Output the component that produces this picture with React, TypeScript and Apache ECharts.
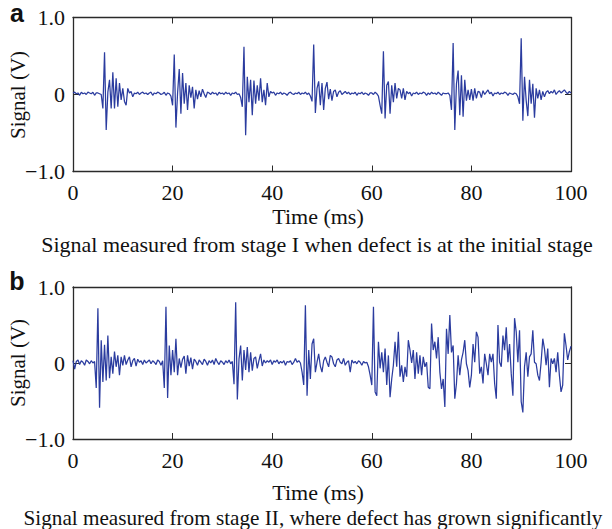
import React, { useEffect, useRef } from "react";
import * as echarts from "echarts";

// sample step: 1/3 ms
const STEP_MS = 1 / 3;

const xTicks = [0, 20, 40, 60, 80, 100];
const yTicks = [-1, 0, 1];
const yTickLabels: Record<string, string> = { "-1": "\u22121.0", "0": "0", "1": "1.0" };

const titleA = "Signal measured from stage I when defect is at the initial stage";
const titleB = "Signal measured from stage II, where defect has grown significantly";
const xName = "Time (ms)";
const yName = "Signal (V)";

// Panel a: stage I signal (V), one value every 1/3 ms, 0..100 ms
const signalA = [
  0.02, 0.03, 0.01, 0.02, -0.01, 0.03, 0.01, 0.02, 0.0, 0.03, 0.02, 0.01, 0.03, -0.01, 0.02,
  0.02, 0.01, 0.0, -0.18, 0.55, -0.46, 0.03, 0.19, -0.18, 0.29, -0.18, 0.21, -0.16, 0.15, -0.07,
  0.08, -0.09, -0.14, 0.08, 0.02, 0.04, -0.03, 0.02, 0.01, 0.03, 0.0, 0.02, 0.03, 0.01, 0.02,
  0.0, 0.02, 0.03, -0.01, 0.02, 0.01, 0.03, 0.02, 0.0, 0.01, 0.03, -0.01, 0.02, 0.01, -0.02,
  -0.14, 0.52, -0.43, 0.02, 0.33, -0.25, 0.28, -0.12, 0.15, -0.2, 0.12, -0.04, 0.1, -0.18, 0.06,
  -0.06, 0.05, -0.03, 0.07, 0.01, -0.04, 0.03, 0.02, 0.0, 0.03, 0.01, 0.02, -0.01, 0.03, 0.01,
  0.02, 0.0, 0.03, 0.01, 0.02, -0.01, 0.02, 0.01, 0.03, 0.0, 0.01, -0.04, -0.16, 0.62, -0.53,
  0.23, -0.1, 0.19, -0.27, 0.18, -0.12, 0.12, -0.08, 0.21, -0.1, 0.06, -0.14, 0.15, -0.03, 0.04,
  0.02, 0.03, -0.01, 0.02, 0.01, 0.03, 0.0, 0.02, 0.01, -0.01, 0.02, 0.03, 0.01, 0.0, 0.02,
  0.01, 0.03, 0.0, 0.02, 0.01, 0.03, 0.0, 0.02, -0.02, -0.09, 0.65, -0.24, 0.08, 0.17, -0.14,
  0.15, -0.2, 0.08, 0.16, -0.06, 0.07, -0.08, 0.04, 0.06, -0.03, 0.03, 0.05, 0.0, 0.02, 0.04,
  0.01, 0.03, 0.0, 0.02, 0.01, 0.03, -0.01, 0.02, 0.01, 0.03, 0.0, 0.02, 0.01, -0.01, 0.02,
  0.02, 0.0, 0.03, 0.01, -0.02, -0.14, -0.25, 0.56, -0.31, 0.12, 0.17, -0.25, 0.12, -0.1, 0.15,
  -0.05, 0.08, 0.06, -0.05, 0.08, -0.07, 0.04, 0.01, 0.03, -0.02, 0.02, 0.01, 0.03, 0.0, 0.02,
  0.01, 0.03, 0.02, -0.01, 0.02, 0.0, 0.03, 0.01, 0.02, 0.0, 0.03, 0.01, -0.01, 0.02, 0.01,
  0.01, 0.02, -0.01, -0.2, 0.67, -0.46, 0.14, 0.31, -0.27, 0.25, -0.29, 0.19, -0.08, 0.06, -0.07,
  0.07, -0.08, 0.08, -0.05, 0.04, 0.03, -0.04, 0.05, 0.0, 0.03, 0.06, 0.01, 0.03, -0.02, 0.02,
  0.01, 0.03, 0.0, 0.02, 0.01, 0.03, 0.02, -0.01, 0.02, 0.01, 0.0, 0.02, 0.01, -0.03, -0.12,
  0.73, -0.34, 0.23, -0.08, -0.28, 0.19, -0.12, 0.14, -0.3, 0.08, -0.05, 0.06, -0.07, 0.04, -0.03,
  0.03, 0.05, 0.01, 0.04, 0.02, 0.06, 0.0, 0.03, 0.05, 0.02, 0.04, 0.06, 0.03, 0.01, 0.04,
  0.02,
];

// Panel b: stage II signal (V), one value every 1/3 ms, 0..100 ms
const signalB = [
  0.03, -0.08, 0.02, 0.04, -0.02, 0.03, 0.01, -0.03, 0.04, 0.02, -0.01, 0.03, 0.0, 0.02, -0.33,
  0.72, -0.59, 0.3, -0.25, 0.24, -0.23, 0.36, -0.2, 0.08, -0.14, 0.15, -0.05, 0.1, -0.16, 0.08,
  -0.03, 0.1, -0.02, 0.04, 0.08, -0.05, 0.03, 0.06, -0.04, 0.05, 0.01, 0.03, -0.02, 0.04, 0.0,
  0.02, 0.04, -0.01, 0.03, 0.01, -0.02, 0.04, 0.02, -0.03, 0.03, -0.33, 0.74, -0.46, 0.23, -0.16,
  0.17, -0.12, 0.32, -0.16, 0.06, -0.06, 0.05, 0.09, -0.14, 0.1, -0.04, 0.07, -0.08, 0.05, 0.02,
  -0.03, 0.04, 0.01, -0.02, 0.05, 0.02, -0.03, 0.03, 0.0, 0.04, -0.02, 0.06, 0.01, -0.02, 0.03,
  0.01, -0.02, 0.03, 0.0, 0.04, -0.01, 0.02, -0.28, 0.8, -0.48, 0.05, 0.23, -0.23, 0.17, -0.09,
  0.21, -0.12, 0.14, -0.1, 0.06, 0.08, -0.07, 0.03, 0.12, -0.04, 0.04, 0.0, 0.03, 0.01, 0.04,
  -0.02, 0.03, 0.01, 0.04, -0.01, 0.02, 0.0, 0.03, -0.03, 0.02, 0.01, 0.03, -0.02, 0.01, 0.06,
  0.01, 0.03, 0.0, -0.12, -0.29, 0.76, -0.43, 0.17, -0.21, 0.25, 0.32, -0.12, 0.01, 0.12, -0.04,
  -0.12, 0.03, 0.08, 0.01, -0.05, 0.1, 0.08, -0.01, -0.05, 0.04, 0.06, 0.01, -0.01, 0.06, -0.03,
  0.01, 0.03, -0.12, 0.04, 0.0, 0.02, -0.01, 0.03, 0.01, -0.03, 0.02, 0.0, 0.01, -0.05, -0.16,
  -0.29, 0.74, -0.38, -0.43, 0.28, -0.07, 0.14, -0.12, 0.19, -0.29, 0.1, -0.45, -0.21, -0.03, 0.28,
  -0.05, 0.41, -0.18, -0.03, -0.25, -0.05, -0.18, 0.3, 0.17, 0.0, 0.17, -0.21, 0.14, -0.14, 0.1,
  -0.16, 0.08, -0.05, 0.01, -0.32, -0.34, 0.52, 0.17, 0.28, 0.06, 0.34, -0.12, -0.34, -0.21, -0.58,
  0.45, 0.12, 0.63, 0.14, 0.23, -0.47, -0.27, 0.1, -0.16, 0.04, 0.14, 0.3, -0.01, -0.1, -0.32,
  -0.16, 0.25, 0.01, 0.41, 0.34, -0.14, -0.05, -0.27, 0.12, -0.01, -0.16, 0.12, 0.01, 0.12, -0.27,
  -0.47, 0.5, 0.01, -0.05, 0.36, 0.17, 0.47, 0.01, 0.25, -0.14, -0.43, 0.59, 0.41, 0.01, 0.43,
  -0.51, -0.65, -0.05, 0.14, -0.18, 0.08, 0.12, 0.43, 0.01, -0.01, -0.16, -0.23, 0.01, 0.32, 0.19,
  -0.03, 0.19, -0.32, 0.06, -0.01, 0.06, -0.12, 0.14, -0.16, -0.38, -0.29, 0.39, 0.23, 0.04, 0.15,
  0.22,
];

const LINE_COLOR = "#2b3c9f";
const FRAME = "#2a2a2a";
const SERIF = "'Liberation Serif', 'Times New Roman', serif";
const SANS = "'Liberation Sans', Arial, sans-serif";

const PLOT_LEFT = 73;
const PLOT_WIDTH = 498;
const GRID_A = { top: 17.5, height: 154 };
const GRID_B = { top: 287, height: 152 };

function toPairs(values: number[]) {
  return values.map((v, i) => [i * STEP_MS, v]);
}

function axesFor(gridIndex: number) {
  const tickStyle = { show: true, inside: true, length: 6, lineStyle: { color: FRAME, width: 1 } };
  const lineStyle = { show: true, onZero: false, lineStyle: { color: FRAME, width: 1.3 } };
  const xBase = {
    type: "value" as const,
    gridIndex,
    min: xTicks[0],
    max: xTicks[xTicks.length - 1],
    interval: xTicks[1] - xTicks[0],
    splitLine: { show: false },
    axisLine: lineStyle,
    axisTick: tickStyle,
  };
  const yBase = {
    type: "value" as const,
    gridIndex,
    min: yTicks[0],
    max: yTicks[yTicks.length - 1],
    interval: 1,
    splitLine: { show: false },
    axisLine: lineStyle,
    axisTick: tickStyle,
  };
  return {
    x: [
      {
        ...xBase,
        position: "bottom" as const,
        axisLabel: { show: true, color: "#111", fontFamily: SERIF, fontSize: 22, margin: 10 },
      },
      { ...xBase, position: "top" as const, axisLabel: { show: false } },
    ],
    y: [
      {
        ...yBase,
        position: "left" as const,
        axisLabel: {
          show: true,
          color: "#111",
          fontFamily: SERIF,
          fontSize: 22,
          margin: 8,
          formatter: (v: number) => yTickLabels[String(v)] ?? String(v),
        },
      },
      { ...yBase, position: "right" as const, axisLabel: { show: false } },
    ],
  };
}

export default function App() {
  const ref = useRef<HTMLDivElement>(null);

  useEffect(() => {
    if (!ref.current) return;
    const chart = echarts.init(ref.current, undefined, { renderer: "svg" });
    const a = axesFor(0);
    const b = axesFor(1);

    const txt = (text: string, x: number, y: number, size: number, extra: any = {}) => ({
      type: "text",
      x,
      y,
      style: {
        text,
        fill: "#111",
        font: `${size}px ${SERIF}`,
        textAlign: "center",
        textVerticalAlign: "middle",
        ...extra,
      },
    });

    chart.setOption({
      animation: false,
      backgroundColor: "#ffffff",
      grid: [
        { left: PLOT_LEFT, top: GRID_A.top, width: PLOT_WIDTH, height: GRID_A.height, containLabel: false },
        { left: PLOT_LEFT, top: GRID_B.top, width: PLOT_WIDTH, height: GRID_B.height, containLabel: false },
      ],
      xAxis: [...a.x, ...b.x],
      yAxis: [...a.y, ...b.y],
      series: [
        {
          type: "line",
          xAxisIndex: 0,
          yAxisIndex: 0,
          data: toPairs(signalA),
          showSymbol: false,
          symbol: "none",
          lineStyle: { color: LINE_COLOR, width: 1.25 },
        },
        {
          type: "line",
          xAxisIndex: 2,
          yAxisIndex: 2,
          data: toPairs(signalB),
          showSymbol: false,
          symbol: "none",
          lineStyle: { color: LINE_COLOR, width: 1.25 },
        },
      ],
      graphic: [
        {
          type: "text",
          x: 17,
          y: 13,
          style: { text: "a", fill: "#111", font: `bold 25px ${SANS}`, textAlign: "center", textVerticalAlign: "middle" },
        },
        {
          type: "text",
          x: 17,
          y: 281,
          style: { text: "b", fill: "#111", font: `bold 25px ${SANS}`, textAlign: "center", textVerticalAlign: "middle" },
        },
        { ...txt(yName, 18, 95, 21), rotation: Math.PI / 2 },
        { ...txt(yName, 18, 363, 21), rotation: Math.PI / 2 },
        txt(xName, 318, 216, 22),
        txt(xName, 318, 492, 22),
        txt(titleA, 317, 244, 22),
        txt(titleB, 313, 518, 21.2),
      ],
    });

    return () => chart.dispose();
  }, []);

  return (
    <div
      ref={ref}
      style={{ position: "absolute", left: 0, top: 0, width: 612, height: 529 }}
    />
  );
}
